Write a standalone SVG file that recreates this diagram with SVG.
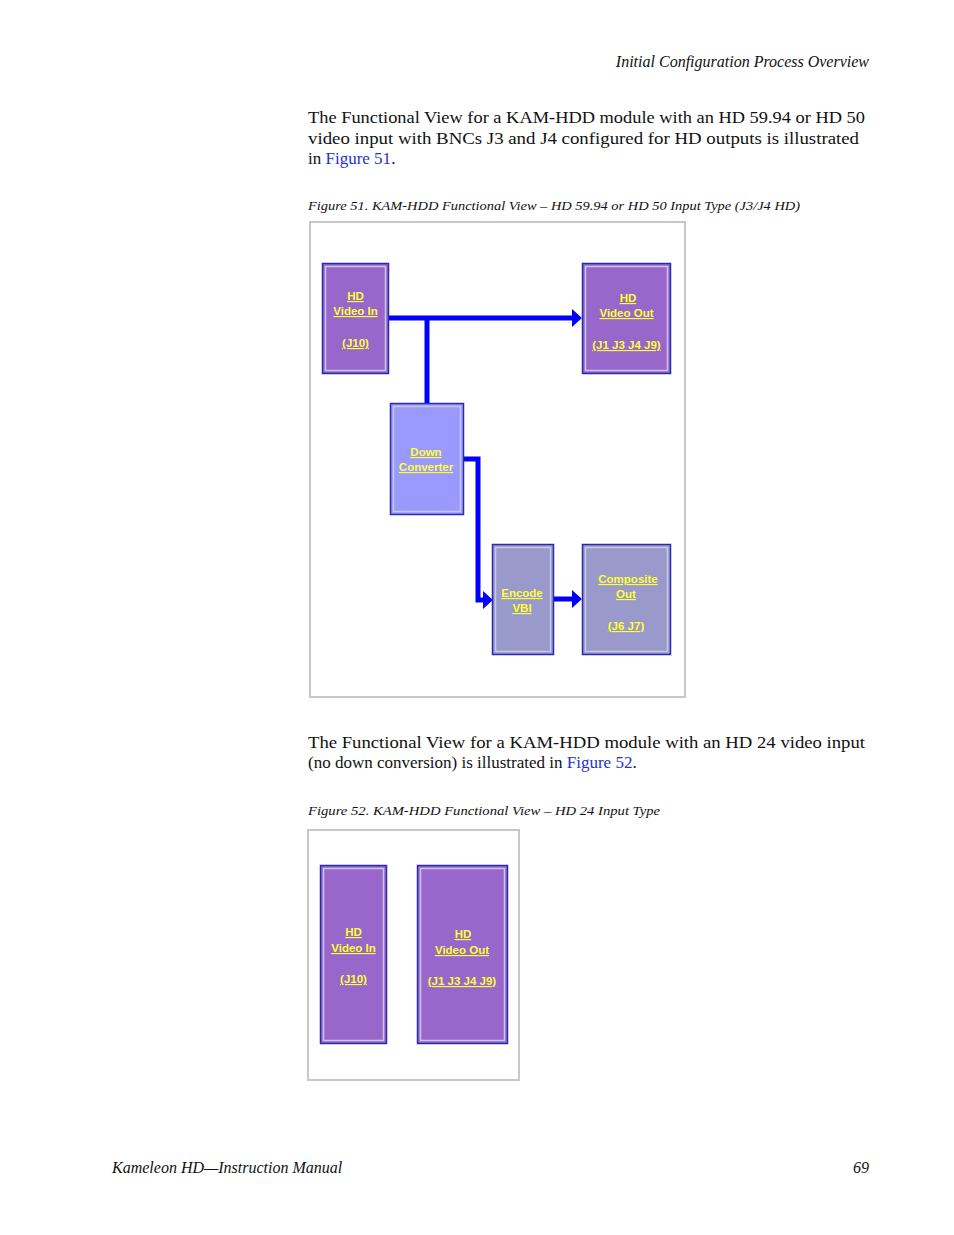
<svg xmlns="http://www.w3.org/2000/svg" width="954" height="1235" viewBox="0 0 954 1235">
<style>
.body{font-family:"Liberation Serif",serif;font-size:17px;fill:#111}
.it{font-family:"Liberation Serif",serif;font-style:italic;fill:#111}
.link{fill:#2233cc}
.frame{fill:#fff;stroke:#c8c8c8;stroke-width:2}
.node rect.o{stroke:#2a2ab0;stroke-width:1.5}
.node rect.i{fill:none;stroke:#c8c8e0;stroke-width:1.5}
.lbl{font-family:"Liberation Sans",Arial,sans-serif;font-weight:bold;font-size:11.5px;fill:#ffff33;text-anchor:middle;text-decoration:underline}
.c{stroke:#0000ff;stroke-width:5;fill:none}
.ah{fill:#0000ff}
</style>
<rect width="954" height="1235" fill="#fff"/>
<text class="it" x="869" y="67" font-size="16" text-anchor="end">Initial Configuration Process Overview</text>
<text class="body" x="308" y="123" textLength="557" lengthAdjust="spacingAndGlyphs">The Functional View for a KAM-HDD module with an HD 59.94 or HD 50</text>
<text class="body" x="308" y="144" textLength="551" lengthAdjust="spacingAndGlyphs">video input with BNCs J3 and J4 configured for HD outputs is illustrated</text>
<text class="body" x="308" y="164">in <tspan class="link">Figure 51</tspan>.</text>
<text class="it" x="308" y="210" font-size="13" textLength="492" lengthAdjust="spacingAndGlyphs">Figure 51.  KAM-HDD Functional View – HD 59.94 or HD 50 Input Type (J3/J4 HD)</text>
<rect class="frame" x="310" y="222" width="375" height="475"/>
<g id="connectors">
<path class="c" d="M389,318 H573 M427,318 V403 M463,459 H478 V600 H484 M553,599 H573"/>
<path class="ah" d="M572,309 L582,318 L572,327 Z M483,591 L493,600 L483,609 Z M572,590 L582,599 L572,608 Z"/>
<path class="c" d="M387,954 H408"/>
<path class="ah" d="M407,945 L417,954 L407,963 Z"/>
</g>
<g id="hd-in" class="node"><rect class="o" x="322.5" y="263.5" width="66" height="110" fill="#9966cc"/><rect class="i" x="325.5" y="266.5" width="60" height="104"/>
<text class="lbl" x="355.5" y="300">HD</text><text class="lbl" x="355.5" y="315">Video In</text><text class="lbl" x="355.5" y="347">(J10)</text></g>
<g id="hd-out" class="node"><rect class="o" x="582.5" y="263.5" width="88" height="110" fill="#9966cc"/><rect class="i" x="585.5" y="266.5" width="82" height="104"/>
<text class="lbl" x="628" y="302">HD</text><text class="lbl" x="626.5" y="317">Video Out</text><text class="lbl" x="626.5" y="349">(J1 J3 J4 J9)</text></g>
<g id="down" class="node"><rect class="o" x="390.5" y="403.5" width="73" height="111" fill="#9999ff"/><rect class="i" x="393.5" y="406.5" width="67" height="105"/>
<text class="lbl" x="426" y="456">Down</text><text class="lbl" x="426" y="471">Converter</text></g>
<g id="encode" class="node"><rect class="o" x="492.5" y="544.5" width="61" height="110" fill="#9999cc"/><rect class="i" x="495.5" y="547.5" width="55" height="104"/>
<text class="lbl" x="522" y="597">Encode</text><text class="lbl" x="522" y="612">VBI</text></g>
<g id="composite" class="node"><rect class="o" x="582.5" y="544.5" width="88" height="110" fill="#9999cc"/><rect class="i" x="585.5" y="547.5" width="82" height="104"/>
<text class="lbl" x="628" y="583">Composite</text><text class="lbl" x="626" y="598">Out</text><text class="lbl" x="626" y="630">(J6 J7)</text></g>
<text class="body" x="308" y="748" textLength="557" lengthAdjust="spacingAndGlyphs">The Functional View for a KAM-HDD module with an HD 24 video input</text>
<text class="body" x="308" y="768">(no down conversion) is illustrated in <tspan class="link">Figure 52</tspan>.</text>
<text class="it" x="308" y="815" font-size="13" textLength="352" lengthAdjust="spacingAndGlyphs">Figure 52.  KAM-HDD Functional View – HD 24 Input Type</text>
<rect class="frame" x="308" y="830" width="211" height="250"/>
<g id="hd-in-2" class="node"><rect class="o" x="320.5" y="865.5" width="66" height="178" fill="#9966cc"/><rect class="i" x="323.5" y="868.5" width="60" height="172"/>
<text class="lbl" x="353.5" y="936">HD</text><text class="lbl" x="353.5" y="952">Video In</text><text class="lbl" x="353.5" y="983">(J10)</text></g>
<g id="hd-out-2" class="node"><rect class="o" x="417.5" y="865.5" width="90" height="178" fill="#9966cc"/><rect class="i" x="420.5" y="868.5" width="84" height="172"/>
<text class="lbl" x="463" y="938">HD</text><text class="lbl" x="462" y="954">Video Out</text><text class="lbl" x="462" y="985">(J1 J3 J4 J9)</text></g>
<text class="it" x="112" y="1173" font-size="16">Kameleon HD—Instruction Manual</text>
<text class="it" x="869" y="1173" font-size="16" text-anchor="end">69</text>
</svg>
